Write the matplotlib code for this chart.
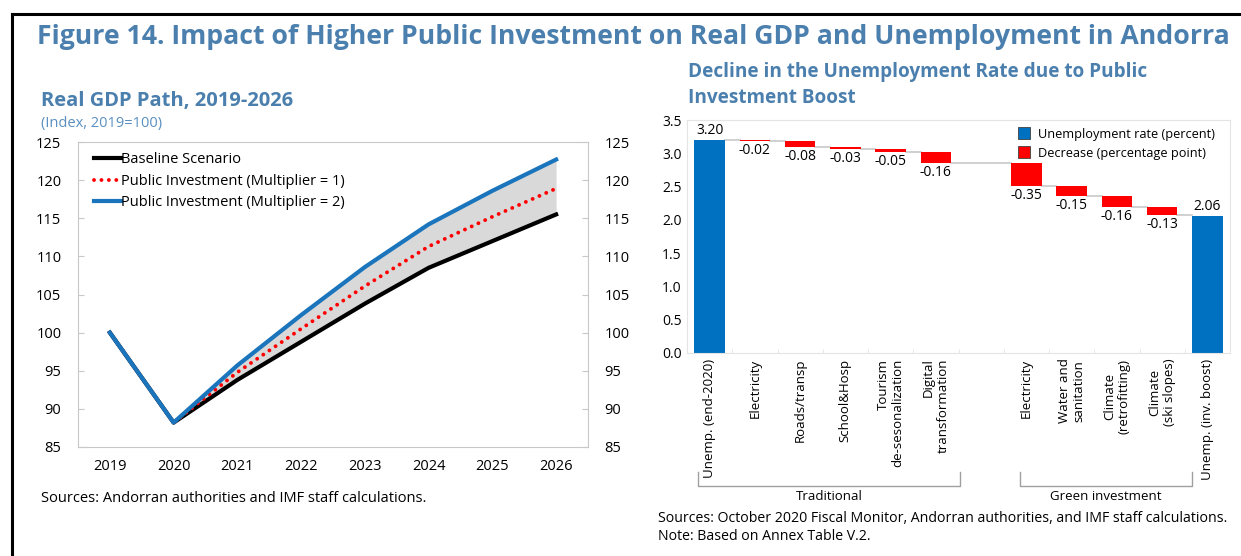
import matplotlib
matplotlib.use("Agg")
import matplotlib.pyplot as plt
import matplotlib.transforms as mtransforms
from matplotlib.lines import Line2D
import numpy as np

plt.rcParams['font.family'] = ['Open Sans', 'DejaVu Sans']

# ---- Real GDP path data ----
years = [2019, 2020, 2021, 2022, 2023, 2024, 2025, 2026]
baseline = [100.0, 88.2, 93.8, 98.8, 103.8, 108.5, 112.0, 115.5]
invest_m1 = [100.0, 88.2, 94.8, 100.5, 106.1, 111.3, 115.2, 118.9]
invest_m2 = [100.0, 88.2, 95.7, 102.3, 108.6, 114.2, 118.6, 122.7]

# ---- Unemployment waterfall data ----
unemp_start = 3.20
unemp_end = 2.06
traditional_labels = ["Electricity", "Roads/transp", "School&Hosp",
                      "Tourism\nde-sesonalization", "Digital\ntransformation"]
traditional_changes = [-0.02, -0.08, -0.03, -0.05, -0.16]
green_labels = ["Electricity", "Water and\nsanitation", "Climate\n(retrofitting)",
                "Climate\n(ski slopes)"]
green_changes = [-0.35, -0.15, -0.16, -0.13]
start_label = "Unemp. (end-2020)"
end_label = "Unemp. (inv. boost)"

TITLE_BLUE = "#4A7FAE"
GRAY_SPINE = "#C8C8C8"
W, H = 1241, 556

fig = plt.figure(figsize=(12.41, 5.56), dpi=100)

# outer frame lines (top and left)
fig.add_artist(Line2D([12/W, 1240/W], [1-14/H, 1-14/H],
                      color="black", lw=2.2, transform=fig.transFigure))
fig.add_artist(Line2D([12/W, 12/W], [1-14/H, 0],
                      color="black", lw=2.2, transform=fig.transFigure))

fig.text(37/W, 1-37/H, "Figure 14. Impact of Higher Public Investment on Real GDP and Unemployment in Andorra",
         fontsize=19.2, fontweight="bold", color=TITLE_BLUE, va="center", ha="left")

# ================= Left panel =================
axL = fig.add_axes([78/W, 1-447/H, 510/W, 305/H])
fig.text(41/W, 1-101/H, "Real GDP Path, 2019-2026", fontsize=14.5,
         fontweight="bold", color=TITLE_BLUE, va="center", ha="left")
fig.text(41/W, 1-123/H, "(Index, 2019=100)", fontsize=10.5,
         color="#5A8FC0", va="center", ha="left")

axL.fill_between(years[1:], baseline[1:], invest_m2[1:], color="#D9D9D9", lw=0, zorder=1)
axL.plot(years, baseline, color="black", lw=3, label="Baseline Scenario", zorder=2)
axL.plot(years, invest_m1, color="#FF0000", lw=2.8, linestyle=(0, (0.01, 1.9)),
         dash_capstyle="round", label="Public Investment (Multiplier = 1)", zorder=3)
axL.plot(years, invest_m2, color="#1B75BC", lw=3, label="Public Investment (Multiplier = 2)", zorder=4)

axL.set_xlim(2018.5, 2026.5)
axL.set_ylim(85, 125)
axL.set_xticks(years)
axL.set_yticks(np.arange(85, 126, 5))
for s in axL.spines.values():
    s.set_color(GRAY_SPINE)
axL.tick_params(axis="x", length=0, labelsize=10.5, pad=9)
axL.tick_params(axis="y", length=4, direction="in", color=GRAY_SPINE, labelsize=10.5, pad=12,
                right=True, labelright=True)

axL.legend(loc="upper left", frameon=False, fontsize=10.5, handlelength=1.8,
           handletextpad=0.05, labelspacing=0.45, borderaxespad=0.3,
           bbox_to_anchor=(0.012, 1.0))

fig.text(41/W, 1-498/H, "Sources: Andorran authorities and IMF staff calculations.",
         fontsize=10.5, va="center", ha="left")

# ================= Right panel =================
axR = fig.add_axes([687/W, 1-353/H, 543/W, 233/H])
fig.text(688/W, 1-72/H, "Decline in the Unemployment Rate due to Public",
         fontsize=13.7, fontweight="bold", color=TITLE_BLUE, va="center", ha="left")
fig.text(688/W, 1-98/H, "Investment Boost",
         fontsize=13.7, fontweight="bold", color=TITLE_BLUE, va="center", ha="left")

changes = traditional_changes + [None] + green_changes
labels = [start_label] + traditional_labels + [""] + green_labels + [end_label]
n = len(labels)
x = np.arange(n)
bw = 0.67
BLUE = "#0070C0"
RED = "#FF0000"

axR.bar(0, unemp_start, width=bw, color=BLUE, zorder=2)
axR.text(0, unemp_start + 0.03, f"{unemp_start:.2f}", ha="center", va="bottom", fontsize=10)

level = unemp_start
prev_right = 0 + bw / 2
for i, c in enumerate(changes, start=1):
    if c is None:
        continue
    new_level = level + c
    axR.plot([prev_right, i - bw / 2], [level, level], color=GRAY_SPINE, lw=1.2, zorder=1)
    axR.bar(i, -c, bottom=new_level, width=bw, color=RED, zorder=2)
    axR.text(i, new_level - 0.03, f"{c:.2f}", ha="center", va="top", fontsize=10)
    level = new_level
    prev_right = i + bw / 2

axR.plot([prev_right, n - 1 - bw / 2], [level, level], color=GRAY_SPINE, lw=1.2, zorder=1)
axR.bar(n - 1, unemp_end, width=bw, color=BLUE, zorder=2)
axR.text(n - 1, unemp_end + 0.03, f"{unemp_end:.2f}", ha="center", va="bottom", fontsize=10)

axR.set_xlim(-0.5, n - 0.5)
axR.set_ylim(0, 3.5)
axR.set_yticks(np.arange(0, 3.51, 0.5))
axR.set_yticklabels([f"{v:.1f}" for v in np.arange(0, 3.51, 0.5)])
for s in axR.spines.values():
    s.set_color("#E4E4E4")
axR.tick_params(axis="y", length=0, labelsize=10, pad=4)
axR.set_xticks(x)
axR.set_xticklabels(labels, rotation=90, va="top", ha="center", fontsize=9.5)
axR.tick_params(axis="x", length=0, pad=4)
for lab in axR.get_xticklabels():
    txt = lab.get_text()
    lab.set_multialignment("center" if txt.startswith("Climate") or txt.startswith("Water") else "right")
# faint separators between categories
axR.set_xticks(x[:-1] + 0.5, minor=True)
axR.tick_params(axis="x", which="minor", length=3, direction="in", color="#E4E4E4")

leg_handles = [
    Line2D([], [], marker="s", linestyle="none", markersize=8, markerfacecolor=BLUE,
           markeredgecolor="#404040", markeredgewidth=0.6),
    Line2D([], [], marker="s", linestyle="none", markersize=8, markerfacecolor=RED,
           markeredgecolor="#404040", markeredgewidth=0.6),
]
axR.legend(leg_handles, ["Unemployment rate (percent)", "Decrease (percentage point)"],
           loc="upper right", frameon=False, fontsize=9.2, handletextpad=0.1,
           labelspacing=0.5, borderaxespad=0.1, bbox_to_anchor=(0.985, 0.995))

# group brackets under the category labels
blend = mtransforms.blended_transform_factory(axR.transData, fig.transFigure)
y_top = 1 - 472/H
y_bot = 1 - 486/H
for x0, x1, name in [(-0.25, 5.53, "Traditional"), (6.86, 10.66, "Green investment")]:
    fig.add_artist(Line2D([x0, x0, x1, x1], [y_top, y_bot, y_bot, y_top], color="#A0A0A0",
                          lw=1.0, transform=blend))
    fig.text((x0 + x1) / 2, 1 - 497/H, name, transform=blend, ha="center", va="center",
             fontsize=9.5)

fig.text(658/W, 1-519/H,
         "Sources: October 2020 Fiscal Monitor, Andorran authorities, and IMF staff calculations.",
         fontsize=10.2, va="center", ha="left")
fig.text(658/W, 1-537/H, "Note: Based on Annex Table V.2.",
         fontsize=10.2, va="center", ha="left")

fig.savefig("out.png", dpi=100)
